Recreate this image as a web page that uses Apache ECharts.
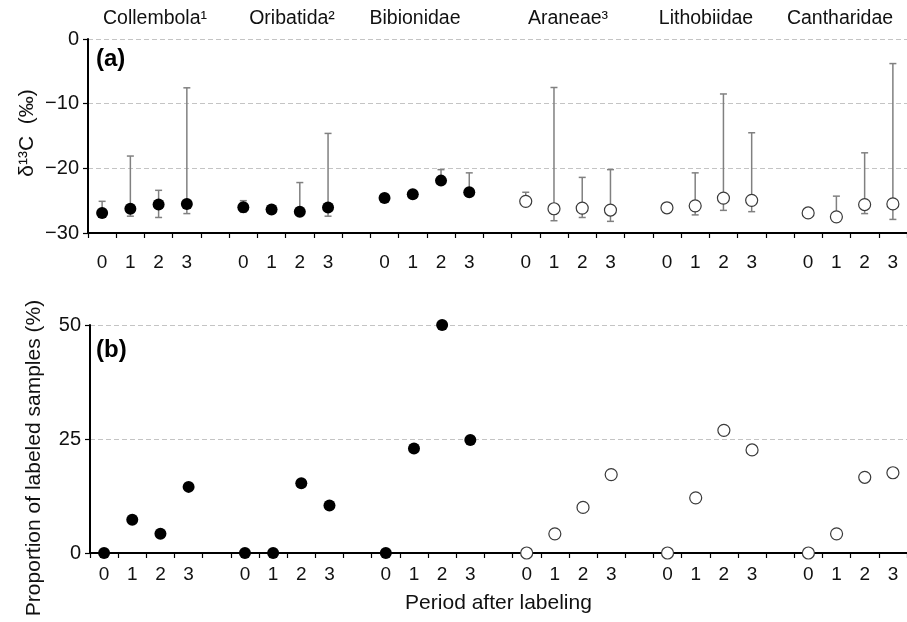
<!DOCTYPE html>
<html>
<head>
<meta charset="utf-8">
<script src="https://cdn.jsdelivr.net/npm/echarts@6/dist/echarts.min.js"></script>
<style>html,body{margin:0;padding:0;background:#fff;}#chart{width:907px;height:622px;}</style>
</head>
<body>
<div id="chart"></div>
<script>
// ---- data ----
const groups = ['Collembola\u00b9', 'Oribatida\u00b2', 'Bibionidae', 'Araneae\u00b3', 'Lithobiidae', 'Cantharidae'];
const periods = ['0', '1', '2', '3'];
const filledGroups = [true, true, true, false, false, false];
// (a) delta 13C means (per mille), rows = groups, columns = periods 0..3
const d13cMean = [
  [-26.9, -26.25, -25.6, -25.5],
  [-26.0, -26.35, -26.7, -26.05],
  [-24.6, -24.0, -21.9, -23.7],
  [-25.1, -26.25, -26.15, -26.45],
  [-26.1, -25.8, -24.6, -24.95],
  [-26.9, -27.5, -25.6, -25.5]
];
const d13cUpper = [
  [-25.1, -18.1, -23.4, -7.55],
  [-25.0, null, -22.2, -14.6],
  [null, null, -20.2, -20.7],
  [-23.7, -7.5, -21.4, -20.2],
  [null, -20.7, -8.5, -14.5],
  [null, -24.3, -17.6, -3.8]
];
const d13cLower = [
  [null, -27.4, -27.6, -27.0],
  [-26.8, null, null, -27.4],
  [null, null, null, null],
  [null, -28.1, -27.6, -28.2],
  [null, -27.2, -26.5, -26.7],
  [null, null, -27.0, -27.9]
];
// (b) proportion of labeled samples (%)
const labeledPct = [
  [0, 7.3, 4.2, 14.5],
  [0, 0, 15.3, 10.4],
  [0, 22.9, 50, 24.8],
  [0, 4.2, 10.0, 17.2],
  [0, 12.1, 26.9, 22.6],
  [0, 4.2, 16.6, 17.6]
];
const yTicksA = [-30, -20, -10, 0];
const yTicksB = [0, 25, 50];

// ---- build categories: 4 periods per group + 1 empty spacer slot ----
const categories = [];
groups.forEach((g, gi) => {
  periods.forEach(p => categories.push(p));
  if (gi < groups.length - 1) categories.push('');
});
const slotOf = (gi, pi) => gi * (periods.length + 1) + pi;

const aFilled = [], aOpen = [], bFilled = [], bOpen = [], errData = [];
groups.forEach((g, gi) => {
  periods.forEach((p, pi) => {
    const x = slotOf(gi, pi);
    const m = d13cMean[gi][pi];
    (filledGroups[gi] ? aFilled : aOpen).push([x, m]);
    (filledGroups[gi] ? bFilled : bOpen).push([x, labeledPct[gi][pi]]);
    const hi = d13cUpper[gi][pi], lo = d13cLower[gi][pi];
    if (hi != null || lo != null) {
      errData.push([x, lo != null ? lo : m, hi != null ? hi : m, lo != null ? 1 : 0, hi != null ? 1 : 0]);
    }
  });
});

const fontFamily = '"Liberation Sans", Arial, sans-serif';
const minusFmt = v => String(v).replace('-', '\u2212');

function xAxisCfg(gridIndex, margin) {
  return {
    type: 'category', gridIndex, data: categories, boundaryGap: true,
    axisLine: { show: true, onZero: false, lineStyle: { color: '#000', width: 2 } },
    axisTick: { show: true, interval: 0, length: 5, lineStyle: { color: '#000', width: 1.2 } },
    axisLabel: { interval: 0, margin, color: '#111', fontSize: 19, fontFamily },
    splitLine: { show: false }
  };
}
function yAxisCfg(gridIndex, min, max, interval) {
  return {
    type: 'value', gridIndex, min, max, interval,
    axisLine: { show: true, onZero: false, lineStyle: { color: '#000', width: 2 } },
    axisTick: { show: true, length: 5, lineStyle: { color: '#000', width: 1.2 } },
    axisLabel: { color: '#111', fontSize: 20, fontFamily, margin: 9, formatter: minusFmt },
    splitLine: { show: true, lineStyle: { color: '#c4c4c4', type: [5, 3], width: 1 } }
  };
}

function renderErr(params, api) {
  const x = api.value(0), lo = api.value(1), hi = api.value(2);
  const capLo = api.value(3), capHi = api.value(4);
  const pHi = api.coord([x, hi]), pLo = api.coord([x, lo]);
  const cw = 3.5;
  const style = { stroke: '#808080', lineWidth: 1.5 };
  const children = [{ type: 'line', shape: { x1: pHi[0], y1: pHi[1], x2: pLo[0], y2: pLo[1] }, style }];
  if (capHi) children.push({ type: 'line', shape: { x1: pHi[0] - cw, y1: pHi[1], x2: pHi[0] + cw, y2: pHi[1] }, style });
  if (capLo) children.push({ type: 'line', shape: { x1: pLo[0] - cw, y1: pLo[1], x2: pLo[0] + cw, y2: pLo[1] }, style });
  return { type: 'group', children };
}

const filledStyle = { color: '#000', borderColor: '#000', borderWidth: 0, opacity: 1 };
const openStyle = { color: '#fff', borderColor: '#3a3a3a', borderWidth: 1.2, opacity: 1 };

const titleXs = [155, 292, 415, 568, 706, 840];
const graphics = groups.map((g, i) => ({
  type: 'text', x: titleXs[i], y: 19,
  style: { text: g, fontSize: 19.5, fontFamily, fill: '#111', align: 'center', verticalAlign: 'middle' }
}));
graphics.push(
  { type: 'text', x: 96, y: 59, style: { text: '(a)', fontSize: 24, fontWeight: 'bold', fontFamily, fill: '#000', align: 'left', verticalAlign: 'middle' } },
  { type: 'text', x: 96, y: 350, style: { text: '(b)', fontSize: 24, fontWeight: 'bold', fontFamily, fill: '#000', align: 'left', verticalAlign: 'middle' } },
  { type: 'text', x: 27, y: 133, rotation: Math.PI / 2, style: { text: '\u03b4\u00b9\u00b3C  (\u2030)', fontSize: 21, fontFamily, fill: '#111', align: 'center', verticalAlign: 'middle' } },
  { type: 'text', x: 34, y: 458, rotation: Math.PI / 2, style: { text: 'Proportion of labeled samples (%)', fontSize: 21, fontFamily, fill: '#111', align: 'center', verticalAlign: 'middle' } }
);

const chart = echarts.init(document.getElementById('chart'), null, { renderer: 'canvas' });
chart.setOption({
  animation: false,
  backgroundColor: '#fff',
  grid: [
    { left: 88, right: -7, top: 39, height: 194 },
    { left: 90, right: -9, top: 325, height: 228 }
  ],
  xAxis: [
    xAxisCfg(0, 20),
    Object.assign(xAxisCfg(1, 12), {
      name: 'Period after labeling', nameLocation: 'middle', nameGap: 40,
      nameTextStyle: { fontSize: 21, fontFamily, color: '#111' }
    })
  ],
  yAxis: [
    yAxisCfg(0, yTicksA[0], yTicksA[yTicksA.length - 1], 10),
    yAxisCfg(1, yTicksB[0], yTicksB[yTicksB.length - 1], 25)
  ],
  graphic: graphics,
  series: [
    { type: 'custom', xAxisIndex: 0, yAxisIndex: 0, renderItem: renderErr, data: errData, z: 1, silent: true },
    { type: 'scatter', xAxisIndex: 0, yAxisIndex: 0, data: aFilled, symbolSize: 12, itemStyle: filledStyle, z: 3 },
    { type: 'scatter', xAxisIndex: 0, yAxisIndex: 0, data: aOpen, symbolSize: 12, itemStyle: openStyle, z: 3 },
    { type: 'scatter', xAxisIndex: 1, yAxisIndex: 1, data: bFilled, symbolSize: 12, itemStyle: filledStyle, z: 3, clip: false },
    { type: 'scatter', xAxisIndex: 1, yAxisIndex: 1, data: bOpen, symbolSize: 12, itemStyle: openStyle, z: 3, clip: false }
  ]
});
</script>
</body>
</html>
